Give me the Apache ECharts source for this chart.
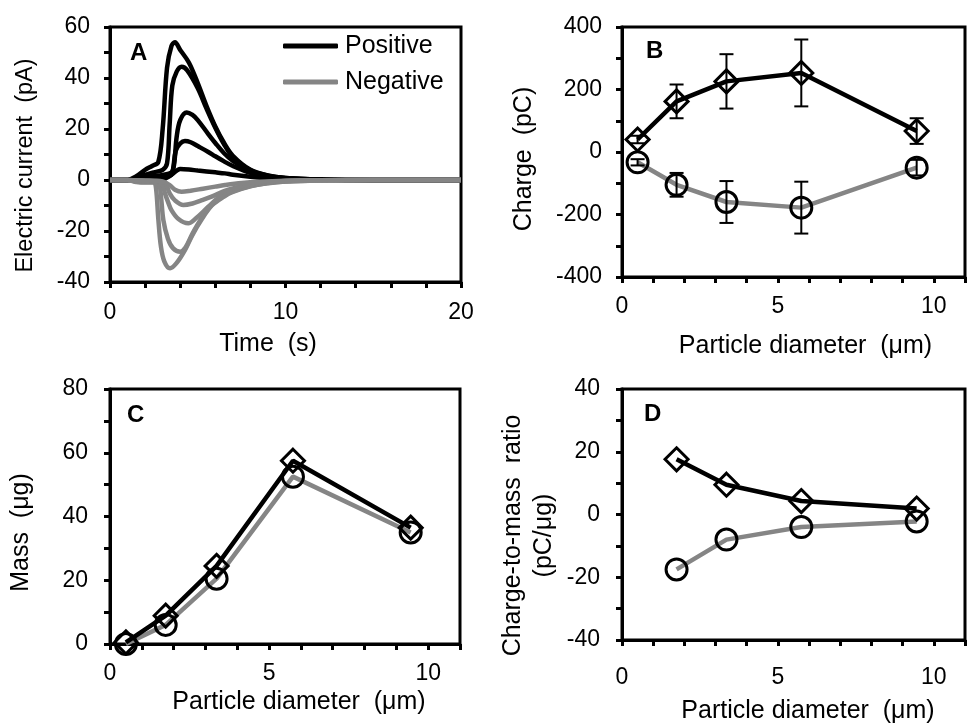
<!DOCTYPE html>
<html>
<head>
<meta charset="utf-8">
<script src="https://cdn.jsdelivr.net/npm/echarts@6/dist/echarts.min.js"></script>
<style>
  html, body { margin: 0; padding: 0; background: #fff; }
  #chart { width: 968px; height: 725px; }
</style>
</head>
<body>
<div id="chart"></div>
<script>
// ---- Panel A: electric current transients, [time (s), current (pA)] ----
const currentPos1 = [[0,0],[1,0],[1.5,1.5],[2,4],[2.4,5.5],[2.75,7],[3,20],[3.25,44],[3.5,52.5],[3.7,54],[4,51],[4.5,46],[5,38],[5.5,29],[6,21],[6.5,14.5],[7,9.5],[8,4],[9,1.8],[10,0.8],[12,0.2],[15,0],[20,0]];
const currentPos2 = [[0,0],[1,0],[1.5,0.8],[2,2],[2.5,3],[3,4],[3.25,6.5],[3.4,22],[3.55,37],[3.8,42.5],[4.08,44.4],[4.4,43],[5,36],[5.5,28],[6,20.5],[6.5,14],[7,9],[8,3.8],[9,1.7],[10,0.8],[12,0.2],[15,0],[20,0]];
const currentPos3 = [[0,0],[1,0],[2,1],[2.5,1.5],[3,2],[3.5,3],[3.65,6],[3.8,17],[4,23.5],[4.37,26.5],[4.7,25.5],[5,23.5],[5.6,18],[6,14.5],[6.5,10.5],[7,7.5],[8,3.3],[9,1.5],[10,0.7],[12,0.2],[15,0],[20,0]];
const currentPos4 = [[0,0],[1,0],[2,0.5],[3,1],[3.5,2],[3.6,4.5],[3.75,11.5],[4,14.3],[4.27,15.3],[4.6,14.8],[5,13.3],[5.6,11],[6,9.3],[6.5,7.3],[7,5.5],[8,2.8],[9,1.3],[10,0.6],[12,0.2],[15,0],[20,0]];
const currentPos5 = [[0,0],[2,0],[3,0.3],[3.5,2],[4,4.3],[4.5,4.1],[5,3.7],[6,3],[6.55,2.6],[7,2.1],[8,1.3],[9,0.7],[10,0.4],[12,0.1],[15,0],[20,0]];
const currentNeg1 = [[0,0],[1,0],[1.5,-0.8],[2,-1],[2.5,-1],[2.62,-3],[2.75,-15],[2.9,-26],[3.1,-32],[3.42,-34.6],[3.8,-32.5],[4.27,-27.5],[4.7,-21.5],[5.2,-15.7],[5.8,-10],[6.5,-6.5],[7,-4.7],[8,-2.5],[9,-1.3],[10,-0.6],[12,-0.2],[15,0],[20,0]];
const currentNeg2 = [[0,0],[1,0],[1.5,-0.5],[2,-0.8],[2.5,-0.8],[2.8,-2],[2.9,-6],[3.04,-15.7],[3.3,-23],[3.6,-26.8],[4,-28.1],[4.3,-26.5],[4.7,-21],[5.2,-15.2],[5.8,-9.8],[6.5,-6.2],[7,-4.5],[8,-2.4],[9,-1.2],[10,-0.6],[12,-0.2],[15,0],[20,0]];
const currentNeg3 = [[0,0],[1,0],[2,-0.5],[2.8,-0.8],[3,-2],[3.13,-5.2],[3.3,-8.5],[3.5,-11.8],[3.9,-15.3],[4.46,-17],[4.9,-15],[5.6,-10.5],[6.2,-6.8],[6.93,-3.9],[8,-1.8],[9,-0.9],[10,-0.4],[12,-0.1],[15,0],[20,0]];
const currentNeg4 = [[0,0],[1,0],[2,-0.3],[3,-0.8],[3.2,-2],[3.4,-5.2],[3.7,-8],[4.18,-9.8],[4.7,-9.2],[5.2,-8],[5.79,-6.5],[6.5,-4.4],[7,-3.3],[8,-1.7],[9,-0.8],[10,-0.4],[12,-0.1],[15,0],[20,0]];
const currentNeg5 = [[0,0],[2,-0.2],[3,-0.6],[3.4,-2],[3.7,-3.8],[4.08,-4.6],[4.6,-4.2],[5.3,-3.4],[6,-2.6],[6.55,-2],[7.5,-1.2],[8.5,-0.7],[10,-0.3],[12,-0.1],[15,0],[20,0]];

// ---- Panels B, C: per particle size ----
const diameters = [0.5, 1.75, 3.35, 5.75, 9.45];          // µm
const chargePos = [40, 162, 226, 253, 67];                 // pC
const chargePosErr = [12, 54, 87, 107, 41];
const chargeNeg = [-33, -105, -160, -178, -50];            // pC
const chargeNegErr = [10, 38, 67, 83, 25];
const massPos = [0.5, 8.9, 24.5, 57.5, 36.5];              // µg
const massNeg = [0, 6, 20.5, 52.5, 35];                    // µg

// ---- Panel D: charge-to-mass ratio ----
const ratioDiameters = [1.75, 3.35, 5.75, 9.45];
const ratioPos = [17.6, 9.5, 4.3, 1.9];                    // pC/µg
const ratioNeg = [-17.5, -8, -4, -2.2];

// tick label sets
const ticksA_x = [0, 10, 20];
const ticksDiam = [0, 5, 10];
const ticksA_y = [-40, -20, 0, 20, 40, 60];
const ticksB_y = [-400, -200, 0, 200, 400];
const ticksC_y = [0, 20, 40, 60, 80];
const ticksD_y = [-40, -20, 0, 20, 40];

const FONT = '"Liberation Sans", Arial, sans-serif';
const BLACK = '#000';
const GRAY = '#858585';
const TICK_FS = 23;
const NAME_FS = 25;

const pairs = (xs, ys) => xs.map((x, i) => [x, ys[i]]);
const triples = (xs, ys, es) => xs.map((x, i) => [x, ys[i], es[i]]);
const showOnly = list => v => (list.indexOf(Math.round(v * 1000) / 1000) >= 0 ? String(v) : '');

function tickLabels(margin, list) {
  return { color: BLACK, fontSize: TICK_FS, fontFamily: FONT, margin: margin, formatter: showOnly(list) };
}
function nameStyle(padding, extra) {
  return Object.assign({ color: BLACK, fontSize: NAME_FS, fontFamily: FONT, padding: padding }, extra || {});
}

function valueAxis(gridIndex, opt) {
  return Object.assign({
    type: 'value',
    gridIndex: gridIndex,
    axisLine: { show: true, onZero: false, lineStyle: { color: BLACK, width: 3 } },
    axisTick: { show: true, length: 6, lineStyle: { color: BLACK, width: 3 } },
    splitLine: { show: false },
    nameLocation: 'middle'
  }, opt);
}

function errorBars(xIdx, yIdx, data) {
  return {
    type: 'custom',
    xAxisIndex: xIdx, yAxisIndex: yIdx,
    data: data,
    z: 3,
    encode: { x: 0, y: 1 },
    renderItem: function (params, api) {
      const x = api.value(0), y = api.value(1), e = api.value(2);
      const top = api.coord([x, y + e]);
      const bot = api.coord([x, y - e]);
      const w = 7;
      const st = { stroke: BLACK, lineWidth: 2 };
      return {
        type: 'group',
        children: [
          { type: 'line', shape: { x1: top[0], y1: top[1], x2: bot[0], y2: bot[1] }, style: st },
          { type: 'line', shape: { x1: top[0] - w, y1: top[1], x2: top[0] + w, y2: top[1] }, style: st },
          { type: 'line', shape: { x1: bot[0] - w, y1: bot[1], x2: bot[0] + w, y2: bot[1] }, style: st }
        ]
      };
    }
  };
}

function markerLine(name, xIdx, yIdx, data, color, symbol, size) {
  return {
    type: 'line', name: name,
    xAxisIndex: xIdx, yAxisIndex: yIdx,
    data: data,
    z: 2,
    color: color,
    lineStyle: { color: color, width: 4.5 },
    symbol: symbol,
    symbolSize: size,
    showAllSymbol: true,
    itemStyle: { color: 'rgba(255,255,255,0)', borderColor: BLACK, borderWidth: 3 },
    emphasis: { disabled: true },
    animation: false
  };
}

function currentLine(name, data, color) {
  return {
    type: 'line', name: name,
    xAxisIndex: 0, yAxisIndex: 0,
    data: data,
    color: color,
    smooth: 0.35,
    symbol: 'none',
    lineStyle: { color: color, width: 4.5 },
    emphasis: { disabled: true },
    animation: false
  };
}

// bold panel letters as title components
function panelLetter(text, left, top) {
  return { text: text, left: left, top: top, padding: 0,
    textStyle: { fontSize: 24, fontWeight: 'bold', fontFamily: 'Arial', color: BLACK } };
}

const gridStyle = { show: true, borderColor: BLACK, borderWidth: 3, containLabel: false };

const option = {
  backgroundColor: '#fff',
  animation: false,
  title: [
    panelLetter('A', 130, 41),
    panelLetter('B', 646, 39),
    panelLetter('C', 127, 403),
    panelLetter('D', 644, 402)
  ],
  grid: [
    Object.assign({ left: 110, top: 27, width: 351, height: 255 }, gridStyle),
    Object.assign({ left: 622, top: 27, width: 352, height: 250 }, gridStyle),
    Object.assign({ left: 110, top: 389, width: 350, height: 255 }, gridStyle),
    Object.assign({ left: 622, top: 389, width: 352, height: 252 }, gridStyle)
  ],
  xAxis: [
    valueAxis(0, { min: 0, max: 20, interval: 2, name: 'Time  (s)', nameGap: 50,
      axisLabel: tickLabels(19, ticksA_x), nameTextStyle: nameStyle([0, 35, 0, 0]) }),
    valueAxis(1, { min: 0, max: 11, interval: 1, name: 'Particle diameter  (μm)', nameGap: 57,
      axisLabel: tickLabels(18, ticksDiam), nameTextStyle: nameStyle([0, 0, 0, 24]) }),
    valueAxis(2, { min: 0, max: 11, interval: 1, name: 'Particle diameter  (μm)', nameGap: 46,
      axisLabel: tickLabels(18, ticksDiam), nameTextStyle: nameStyle([0, 0, 0, 28]) }),
    valueAxis(3, { min: 0, max: 11, interval: 1, name: 'Particle diameter  (μm)', nameGap: 59,
      axisLabel: tickLabels(26, ticksDiam), nameTextStyle: nameStyle([0, 0, 0, 29]) })
  ],
  yAxis: [
    valueAxis(0, { min: -40, max: 60, interval: 10, name: 'Electric current  (pA)', nameGap: 72,
      axisLabel: tickLabels(20, ticksA_y), nameTextStyle: nameStyle([0, 22, 0, 0], { fontSize: 23.5 }) }),
    valueAxis(1, { min: -400, max: 400, interval: 100, name: 'Charge  (pC)', nameGap: 85,
      axisLabel: tickLabels(20, ticksB_y), nameTextStyle: nameStyle([0, 14, 0, 0]) }),
    valueAxis(2, { min: 0, max: 80, interval: 10, name: 'Mass  (μg)', nameGap: 76,
      axisLabel: tickLabels(22, ticksC_y), nameTextStyle: nameStyle([0, 32, 0, 0]) }),
    valueAxis(3, { min: -40, max: 40, interval: 10, name: 'Charge-to-mass  ratio\n(pC/μg)', nameGap: 62,
      axisLabel: tickLabels(22, ticksD_y), nameTextStyle: nameStyle([0, 42, 0, 0], { lineHeight: 31 }) })
  ],
  legend: {
    data: ['Positive', 'Negative'],
    orient: 'vertical',
    left: 278, top: 28,
    itemWidth: 55, itemHeight: 5,
    itemGap: 10,
    icon: 'roundRect',
    selectedMode: false,
    textStyle: { color: BLACK, fontSize: 25, fontFamily: FONT, lineHeight: 26, padding: [0, 0, 0, 2] }
  },
  series: [
    // A: positive transients (black), then negative (gray) on top
    currentLine('Positive', currentPos1, BLACK),
    currentLine('Positive', currentPos2, BLACK),
    currentLine('Positive', currentPos3, BLACK),
    currentLine('Positive', currentPos4, BLACK),
    currentLine('Positive', currentPos5, BLACK),
    currentLine('Negative', currentNeg1, GRAY),
    currentLine('Negative', currentNeg2, GRAY),
    currentLine('Negative', currentNeg3, GRAY),
    currentLine('Negative', currentNeg4, GRAY),
    currentLine('Negative', currentNeg5, GRAY),

    // B: charge with error bars
    markerLine('chargeNeg', 1, 1, pairs(diameters, chargeNeg), GRAY, 'circle', 21),
    markerLine('chargePos', 1, 1, pairs(diameters, chargePos), BLACK, 'diamond', 23),
    errorBars(1, 1, triples(diameters, chargeNeg, chargeNegErr)),
    errorBars(1, 1, triples(diameters, chargePos, chargePosErr)),

    // C: mass
    markerLine('massNeg', 2, 2, pairs(diameters, massNeg), GRAY, 'circle', 21),
    markerLine('massPos', 2, 2, pairs(diameters, massPos), BLACK, 'diamond', 23),

    // D: charge-to-mass ratio
    markerLine('ratioNeg', 3, 3, pairs(ratioDiameters, ratioNeg), GRAY, 'circle', 21),
    markerLine('ratioPos', 3, 3, pairs(ratioDiameters, ratioPos), BLACK, 'diamond', 23)
  ]
};

const chart = echarts.init(document.getElementById('chart'), null, { renderer: 'canvas' });
chart.setOption(option);
</script>
</body>
</html>
